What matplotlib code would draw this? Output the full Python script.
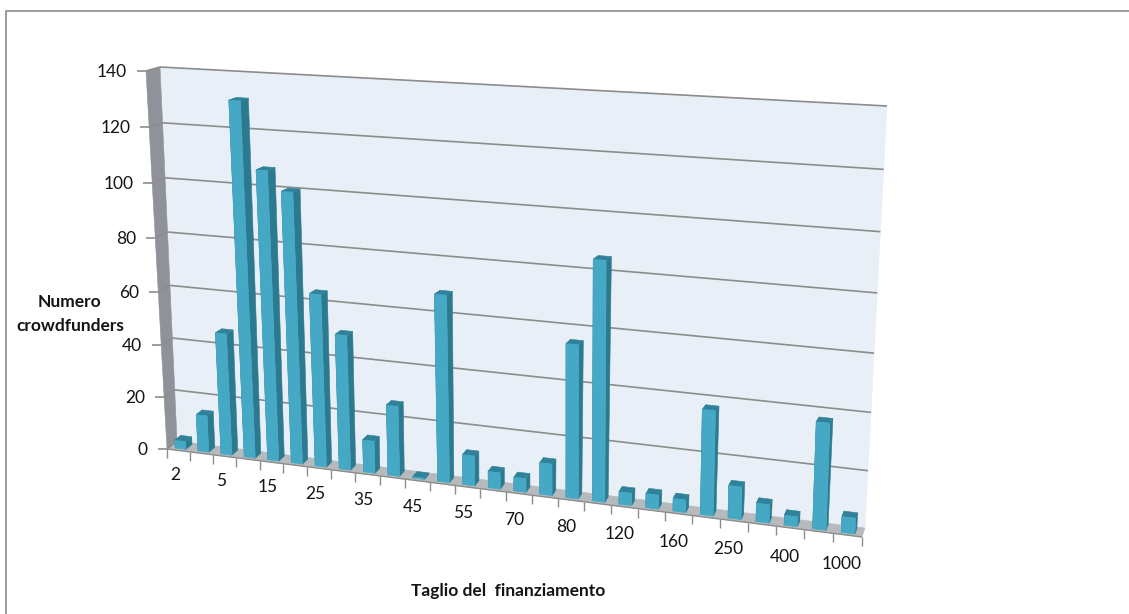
import numpy as np
import matplotlib
matplotlib.use("Agg")
import matplotlib.pyplot as plt
from matplotlib.patches import Polygon

# Funding amount categories (every other one gets a printed label) and backer counts
amounts = [2, 3, 5, 10, 15, 20, 25, 30, 35, 40, 45, 50, 55, 60, 70, 75, 80, 100,
           120, 150, 160, 200, 250, 300, 400, 500, 1000]
backers = [3, 14, 46, 131, 107, 100, 64, 50, 12, 26, 0.5, 68, 11, 6, 5, 11.5, 55, 85,
           4.5, 5, 4.5, 37, 11.5, 6.5, 3.5, 37, 5.5]
value_ticks = [0, 20, 40, 60, 80, 100, 120, 140]
x_title = "Taglio del  finanziamento"
y_title = ["Numero", "crowdfunders"]

W, H = 1129, 614
V_MAX = 140
N = len(amounts)

# Outline of the rear and front planes of the plot box in canvas pixels:
# order is (left,bottom), (left,top), (right,top), (right,bottom)
REAR = [(177, 441), (160, 67), (887, 106), (865, 528)]
FRONT = [(167, 449), (146, 71), (878, 111), (862, 537)]


def homography(corners):
    src = [(0, 0), (0, 1), (1, 1), (1, 0)]
    rows, rhs = [], []
    for (u, v), (px, py) in zip(src, corners):
        rows.append([u, v, 1, 0, 0, 0, -u * px, -v * px])
        rows.append([0, 0, 0, u, v, 1, -u * py, -v * py])
        rhs += [px, py]
    return np.append(np.linalg.solve(np.array(rows, float), np.array(rhs, float)), 1).reshape(3, 3)


H_REAR, H_FRONT = homography(REAR), homography(FRONT)


def apply(m, u, v):
    p = m @ np.array([u, v, 1.0])
    return p[:2] / p[2]


def project(cat, value, depth):
    """Map category position, value and depth (0 rear, 1 front) to canvas pixels."""
    u, v = cat / N, value / V_MAX
    return (1 - depth) * apply(H_REAR, u, v) + depth * apply(H_FRONT, u, v)


plt.rcParams["font.family"] = ["Lato", "DejaVu Sans"]
fig = plt.figure(figsize=(W / 100, H / 100), dpi=100)
ax = fig.add_axes([0, 0, 1, 1])
ax.set_xlim(0, W)
ax.set_ylim(H, 0)
ax.axis("off")

TEXT_C = "#141414"
TICK_FS = 12.5
TITLE_FS = 12.5


def face(points, color, z):
    ax.add_patch(Polygon([project(*p) for p in points], closed=True, facecolor=color,
                         edgecolor=color, linewidth=0.4, zorder=z))


def stroke(pa, pb, color="#8c8c8c", lw=1.2, z=2):
    ax.plot([pa[0], pb[0]], [pa[1], pb[1]], color=color, lw=lw, zorder=z, solid_capstyle="butt")


def segment(a, b, **kw):
    stroke(project(*a), project(*b), **kw)


# Outer chart frame
ax.plot([5.5, 5.5, W], [H, 10.5, 10.5], color="#8a8a8a", lw=1.2, zorder=1)

# Box walls
face([(0, 0, 0), (0, V_MAX, 0), (N, V_MAX, 0), (N, 0, 0)], "#e8eff6", 1)
face([(0, 0, 1), (0, 0, 0), (N, 0, 0), (N, 0, 1)], "#b6babd", 3)
face([(0, 0, 1), (0, V_MAX, 1), (0, V_MAX, 0), (0, 0, 0)], "#8f9298", 3)

# Gridlines across the rear wall and over the side wall, with level tick stubs
for tick in value_ticks:
    if tick > 0:
        segment((0, tick, 0), (N, tick, 0))
    segment((0, tick, 1), (0, tick, 0), z=4)
    edge = project(0, tick, 1)
    stroke(edge - np.array([9, 0]), edge, z=4)
    ax.text(edge[0] - 19, edge[1] + 1, str(tick), ha="right", va="center",
            fontsize=TICK_FS, color=TEXT_C)

# Floor edge and its vertical tick marks
segment((0, 0, 1), (N, 0, 1), z=4, lw=1.0)
for k in range(N + 1):
    edge = project(k, 0, 1)
    stroke(edge, edge + np.array([0, 9]), z=4, lw=1.0)

# Category labels on every other bar
for i in range(0, N, 2):
    pos = project(i + 0.5, 0, 1)
    ax.annotate(str(amounts[i]), xy=pos, xytext=(-2.5 - 1.5 * i / N, -17.5 - 3.5 * i / N),
                textcoords="offset points", ha="center", va="center",
                fontsize=TICK_FS, color=TEXT_C)

# Bars as small boxes, drawn left to right
bar_w, z_front, z_back = 0.47, 0.78, 0.16
FRONT_C, SIDE_C, TOP_C = "#45a9c6", "#2c7a90", "#2f8299"
for i, val in enumerate(backers):
    x0, x1 = i + 0.5 - bar_w / 2, i + 0.5 + bar_w / 2
    z = 5 + i * 0.01
    face([(x0, 0, z_back), (x0, val, z_back), (x0, val, z_front), (x0, 0, z_front)], SIDE_C, z)
    face([(x1, 0, z_back), (x1, val, z_back), (x1, val, z_front), (x1, 0, z_front)], SIDE_C, z)
    face([(x0, val, z_front), (x0, val, z_back), (x1, val, z_back), (x1, val, z_front)], TOP_C, z)
    face([(x0, 0, z_front), (x0, val, z_front), (x1, val, z_front), (x1, 0, z_front)], FRONT_C, z + 0.005)

# Axis titles
ax.text(69, 302, y_title[0], ha="center", va="center", fontsize=TITLE_FS, fontweight="bold", color=TEXT_C)
ax.text(70, 326, y_title[1], ha="center", va="center", fontsize=TITLE_FS, fontweight="bold", color=TEXT_C)
ax.text(508, 591, x_title, ha="center", va="center", fontsize=TITLE_FS, fontweight="bold", color=TEXT_C)

fig.savefig("out.png", dpi=100, facecolor="white")
